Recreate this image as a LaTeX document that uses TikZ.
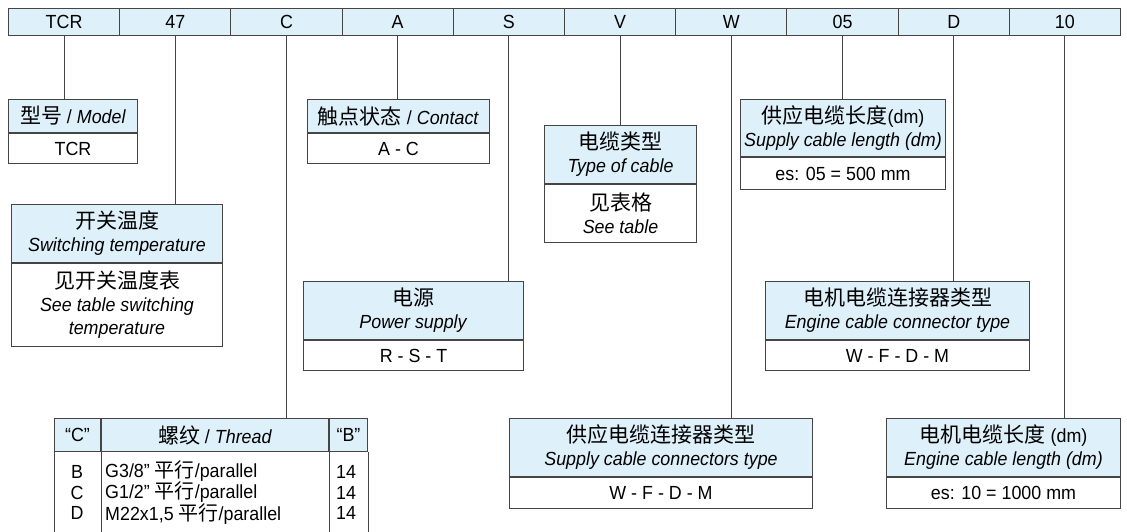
\documentclass[tikz,border=0pt]{standalone}
\usepackage{fontspec}
\setmainfont{Liberation Sans}[FakeStretch=0.94]
\newfontfamily\cjkfont{Noto Sans CJK SC}
\newcommand{\zhtxt}[1]{{\cjkfont\fontsize{21}{23}\selectfont #1}}
\newcommand{\zhsmall}[1]{{\cjkfont\fontsize{20}{20.5}\selectfont #1}}
\definecolor{hdrblue}{HTML}{DEF0FA}
\definecolor{lncol}{HTML}{454545}
\tikzset{
  base/.style={draw=lncol, line width=1pt, inner sep=0pt, align=center,
    font=\fontsize{19}{23}\selectfont, text=black},
  hdr/.style={base, fill=hdrblue},
  bdy/.style={base, fill=white},
  cell/.style={hdr, minimum width=111.2pt, minimum height=27pt, anchor=north west},
  conn/.style={draw=lncol, line width=1pt},
  plain/.style={inner sep=0pt, font=\fontsize{19}{20.5}\selectfont}
}
\newcommand{\twobox}[8]{%
  \node[hdr, anchor=north west, minimum width=#4pt, minimum height=#5pt] (#1) at (#2,#3) {#7};
  \node[bdy, anchor=north, minimum width=#4pt, minimum height=#6pt] (#1-b) at (#1.south) {#8};
}
\begin{document}
\begin{tikzpicture}[x=1pt,y=-1pt]
\useasboundingbox (0,0) rectangle (1127,532);
% top bar
\foreach \i/\t in {1/TCR,2/47,3/C,4/A,5/S,6/V,7/W,8/05,9/D,10/10}{
  \node[cell] (c\i) at ({8+111.2*(\i-1)},8) {\t};
}
% boxes
\twobox{model}{8}{99}{129}{33}{30}{\zhtxt{型号} / \textit{Model}}{TCR}
\twobox{switch}{11}{204}{211}{58}{83}{\zhtxt{开关温度}\\\textit{Switching temperature}}{\zhtxt{见开关温度表}\\\textit{See table switching}\\\textit{temperature}}
\twobox{contact}{307}{99}{182}{33}{30}{\zhtxt{触点状态} / \textit{Contact}}{A - C}
\twobox{cable}{544}{125}{152}{58}{58}{\zhtxt{电缆类型}\\\textit{Type of cable}}{\zhtxt{见表格}\\\textit{See table}}
\twobox{slen}{740}{99}{205}{57}{32}{\zhtxt{供应电缆长度}(dm)\\\textit{Supply cable length (dm)}}{es: 05 = 500 mm}
\twobox{power}{303}{281}{220}{58}{30}{\zhtxt{电源}\\\textit{Power supply}}{R - S - T}
\twobox{econn}{765}{281}{264}{58}{30}{\zhtxt{电机电缆连接器类型}\\\textit{Engine cable connector type}}{W - F - D - M}
\twobox{sconn}{509}{418}{303}{58}{31}{\zhtxt{供应电缆连接器类型}\\\textit{Supply cable connectors type}}{W - F - D - M}
\twobox{elen}{886}{418}{234}{58}{31}{\zhtxt{电机电缆长度} (dm)\\\textit{Engine cable length (dm)}}{es: 10 = 1000 mm}
% thread table
\node[hdr, anchor=north west, minimum width=46pt, minimum height=33pt] (tC) at (54,418) {“C”};
\node[hdr, anchor=north west, minimum width=227pt, minimum height=33pt] (tT) at (tC.north east) {\zhtxt{螺纹} / \textit{Thread}};
\node[hdr, anchor=north west, minimum width=38pt, minimum height=33pt] (tB) at (tT.north east) {“B”};
\draw[conn] (tC.south west) -- ++(0,100);
\draw[conn] (tT.south west) -- ++(0,100);
\draw[conn] (tB.south west) -- ++(0,100);
\draw[conn] (tB.south east) -- ++(0,100);
\node[plain, align=center] (rowC) at (77,492.5) {B\\C\\D};
\node[plain, align=left, anchor=west] (rowT) at (105,492.5) {G3/8” \zhsmall{平行}/parallel\\G1/2” \zhsmall{平行}/parallel\\M22x1,5 \zhsmall{平行}/parallel};
\node[plain, align=center] (rowB) at (346,492.5) {14\\14\\14};
% connectors
\draw[conn] (c1.south) -- (c1.south |- model.north);
\draw[conn] (c2.south) -- (c2.south |- switch.north);
\draw[conn] (c3.south) -- (c3.south |- tT.north);
\draw[conn] (c4.south) -- (c4.south |- contact.north);
\draw[conn] (c5.south) -- (c5.south |- power.north);
\draw[conn] (c6.south) -- (c6.south |- cable.north);
\draw[conn] (c7.south) -- (c7.south |- sconn.north);
\draw[conn] (c8.south) -- (c8.south |- slen.north);
\draw[conn] (c9.south) -- (c9.south |- econn.north);
\draw[conn] (c10.south) -- (c10.south |- elen.north);
\end{tikzpicture}
\end{document}
